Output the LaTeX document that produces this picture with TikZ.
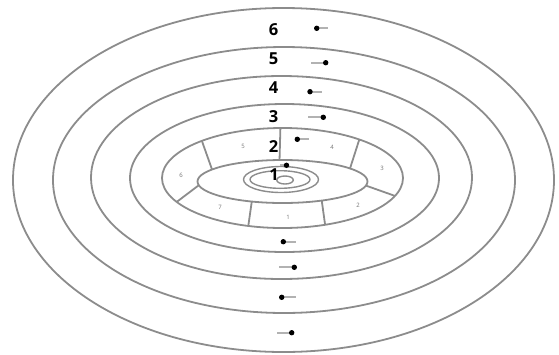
\documentclass[tikz,border=0pt]{standalone}
\usepackage{fontspec}
\setmainfont{Open Sans}
\tikzset{
  ring/.style={draw=black!45, line width=1.8pt},
  thinring/.style={draw=black!45, line width=1.4pt},
  cell/.style={font=\fontsize{6}{6}\selectfont, text=black!55, inner sep=0pt},
  lab/.style={font=\bfseries\fontsize{16.5}{16.5}\selectfont, inner sep=0pt},
  tail/.style={draw=black!30, line width=2pt},
}
\newcommand\flowmark[4]{%
  \coordinate (#1h) at (#2,#3);
  \coordinate (#1t) at (#4,#3);
  \draw[tail] (#1h) -- (#1t);
  \fill[black] (#1h) circle (2.7);}
\begin{document}
\begin{tikzpicture}[x=1pt,y=-1pt]
\useasboundingbox (0,0) rectangle (559,354);
% rings
\draw[ring] (283.5,180) ellipse [x radius=270.5, y radius=172];
\draw[ring] (284,180) ellipse [x radius=231, y radius=133];
\draw[ring] (281.5,177.5) ellipse [x radius=190.5, y radius=101.5];
\draw[ring] (284.5,178) ellipse [x radius=154.5, y radius=74];
\draw[ring] (282.5,178) ellipse [x radius=120.5, y radius=50];
\draw[ring] (282.5,181.5) ellipse [x radius=85, y radius=21.5];
% centre
\draw[thinring] (281,179.5) ellipse [x radius=37.5, y radius=13];
\draw[thinring] (280,179.5) ellipse [x radius=30, y radius=8.8];
\draw[thinring] (285,180) ellipse [x radius=8.3, y radius=4];
% dividers of the segmented ring
\foreach \to/\ti [count=\k] in {91/92, 132/146, 208.6/190, 253.5/248.8, 290.7/297.5, 339/349, 50.4/37.4}{
  \coordinate (do\k) at ({282.5+120.5*cos(\to)},{178-50*sin(\to)});
  \coordinate (di\k) at ({282.5+85*cos(\ti)},{181.5-21.5*sin(\ti)});
  \draw[ring] (do\k) -- (di\k);
}
% cell labels
\node[cell] (c5) at (243,146) {5};
\node[cell] (c4) at (332,147) {4};
\node[cell] (c3) at (382,168) {3};
\node[cell] (c2) at (358,205) {2};
\node[cell] (c1) at (288,217) {1};
\node[cell] (c7) at (220,207) {7};
\node[cell] (c6) at (181,175) {6};
% ring numbers
\node[lab] (l6) at (273.7,29.5) {6};
\node[lab] (l5) at (273.7,58.5) {5};
\node[lab] (l4) at (273.7,87.5) {4};
\node[lab] (l3) at (273.7,117) {3};
\node[lab] (l2) at (273.7,146.3) {2};
\node[lab] (l1) at (274,174.5) {1};
% flow marks (top)
\flowmark{a6}{316.7}{28.3}{328}
\flowmark{a5}{325.7}{62.7}{311}
\flowmark{a4}{310}{91.7}{321.7}
\flowmark{a3}{323.3}{117.3}{308}
\flowmark{a2}{297.3}{139.3}{309.3}
\flowmark{a1}{286.5}{165.3}{280}
% flow marks (bottom)
\flowmark{b3}{283.3}{241.7}{296}
\flowmark{b4}{294.3}{267.3}{279}
\flowmark{b5}{281.7}{297.3}{296}
\flowmark{b6}{291.7}{332.7}{277}
\end{tikzpicture}
\end{document}
